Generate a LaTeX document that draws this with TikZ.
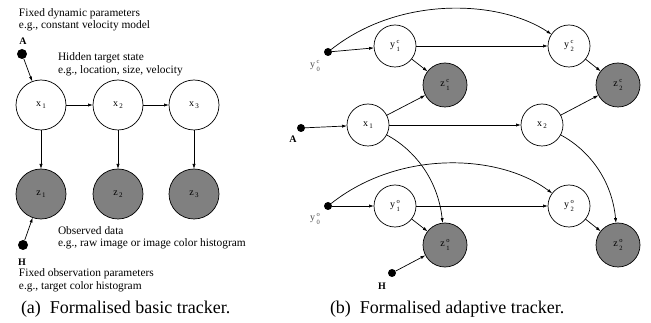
\documentclass[tikz,border=0pt]{standalone}
\usepackage{fontspec}
\setmainfont{Liberation Serif}
\usetikzlibrary{arrows.meta}
\newcommand\lsub[2]{#1\raisebox{-2.5pt}{\fontsize{7}{8}\selectfont\,#2}}
\newcommand\lsupsub[3]{#1\,\raisebox{-4pt}{\fontsize{6.5}{8.5}\selectfont\begin{tabular}[b]{@{}l@{}}#3\\#2\end{tabular}}}
\begin{document}
\begin{tikzpicture}[x=1pt,y=-1pt,
  every node/.style={inner sep=0pt, outer sep=0pt},
  hid/.style={circle, draw, line width=0.7pt, fill=white, minimum size=50pt, font=\fontsize{10}{12}\selectfont},
  obs/.style={hid, fill=black!50},
  hidb/.style={hid, minimum size=42pt},
  obsb/.style={obs, minimum size=44pt},
  dotn/.style={circle, fill=black, minimum size=10pt},
  dotb/.style={circle, fill=black, minimum size=8pt},
  arr/.style={-{Latex[length=5pt,width=3.2pt]}, line width=0.7pt},
  txt/.style={anchor=base west, font=\fontsize{11.4}{12}\selectfont},
  captxt/.style={anchor=base west, font=\fontsize{18}{20}\selectfont},
  glab/.style={text=black!70, font=\fontsize{10}{12}\selectfont},
  bl/.style={font=\fontsize{10}{12}\selectfont\bfseries},
]
\useasboundingbox (0,0) rectangle (651,323);

% ---------- (a) basic tracker ----------
\node[txt] (t1) at (19,16.5) {Fixed dynamic parameters};
\node[txt] (t2) at (19,29) {e.g., constant velocity model};
\node[bl] (Alab) at (23,41) {A};
\node[dotn] (Adot) at (22,54) {};
\node[txt] (t3) at (58,61) {Hidden target state};
\node[txt] (t4) at (58,73.5) {e.g., location, size, velocity};

\node[hid] (x1) at (41,105) {\lsub{x}{1}};
\node[hid] (x2) at (118,105) {\lsub{x}{2}};
\node[hid] (x3) at (194,105) {\lsub{x}{3}};
\node[obs] (z1) at (41,194) {\lsub{z}{1}};
\node[obs] (z2) at (118,194) {\lsub{z}{2}};
\node[obs] (z3) at (194,194) {\lsub{z}{3}};

\node[dotn] (Hdot) at (23,245) {};
\node[txt] (t5) at (58,234.5) {Observed data};
\node[txt] (t6) at (58,247) {e.g., raw image or image color histogram};
\node[bl] (Hlab) at (22,262) {H};
\node[txt] (t7) at (19,277) {Fixed observation parameters};
\node[txt] (t8) at (19,289.5) {e.g., target color histogram};
\node[captxt] (capa) at (21,313.5) {(a)\hspace{0.5em}Formalised basic tracker.};

\draw[arr] (Adot) -- (x1);
\draw[arr] (x1) -- (x2);
\draw[arr] (x2) -- (x3);
\draw[arr] (x1) -- (z1);
\draw[arr] (x2) -- (z2);
\draw[arr] (x3) -- (z3);
\draw[arr] (Hdot) -- (z1);

% ---------- (b) adaptive tracker ----------
\node[hidb] (y1c) at (395,46) {\lsupsub{y}{1}{c}};
\node[hidb] (y2c) at (569,46) {\lsupsub{y}{2}{c}};
\node[obsb] (z1c) at (445,85) {\lsupsub{z}{1}{c}};
\node[obsb] (z2c) at (618,85) {\lsupsub{z}{2}{c}};
\node[hidb] (bx1) at (368,125) {\lsub{x}{1}};
\node[hidb] (bx2) at (542,125) {\lsub{x}{2}};
\node[hidb] (y1o) at (395,206) {\lsupsub{y}{1}{o}};
\node[hidb] (y2o) at (569,206) {\lsupsub{y}{2}{o}};
\node[obsb] (z1o) at (445,245) {\lsupsub{z}{1}{o}};
\node[obsb] (z2o) at (618,245) {\lsupsub{z}{2}{o}};

\node[dotb] (y0c) at (328,52) {};
\node[glab] (y0clab) at (315,66) {\lsupsub{y}{0}{c}};
\node[dotb] (y0o) at (328,206) {};
\node[glab] (y0olab) at (315,219) {\lsupsub{y}{0}{o}};
\node[dotb] (bA) at (301,128) {};
\node[bl] (bAlab) at (293,139) {A};
\node[dotb] (bH) at (392,273) {};
\node[bl] (bHlab) at (382,286) {H};
\node[captxt] (capb) at (330,313.5) {(b)\hspace{0.5em}Formalised adaptive tracker.};

\draw[arr] (y0c) .. controls (400,-5) and (500,0) .. (y2c);
\draw[arr] (y0c) -- (y1c);
\draw[arr] (y1c) -- (y2c);
\draw[arr] (y1c) -- (z1c);
\draw[arr] (y2c) -- (z2c);
\draw[arr] (bx1) -- (z1c);
\draw[arr] (bx2) -- (z2c);
\draw[arr] (bA) -- (bx1);
\draw[arr] (bx1) -- (bx2);
\draw[arr] (bx1) .. controls (415,150) and (438,180) .. (z1o);
\draw[arr] (bx2) .. controls (589,150) and (612,180) .. (z2o);
\draw[arr] (y0o) .. controls (400,149) and (500,154) .. (y2o);
\draw[arr] (y0o) -- (y1o);
\draw[arr] (y1o) -- (y2o);
\draw[arr] (y1o) -- (z1o);
\draw[arr] (y2o) -- (z2o);
\draw[arr] (bH) -- (z1o);
\end{tikzpicture}
\end{document}
